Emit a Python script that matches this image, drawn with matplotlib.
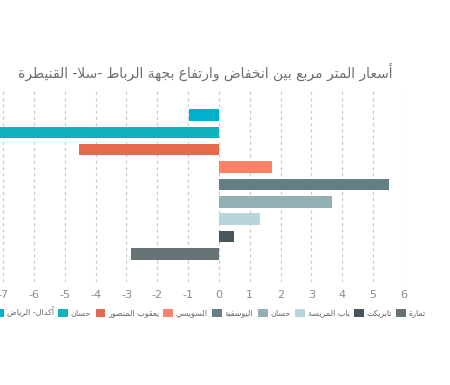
import unicodedata
import matplotlib
matplotlib.use("Agg")
import matplotlib.pyplot as plt
from matplotlib.patches import Patch

plt.rcParams['font.family'] = ['DejaVu Sans']

title = "أسعار المتر مربع بين انخفاض وارتفاع بجهة الرباط -سلا- القنيطرة"
districts = ["أكدال- الرياض", "حسان", "يعقوب المنصور", "السويسي", "اليوسفية",
             "حسان", "باب المريسة", "تابريكت", "تمارة"]
changes = [-0.98, -7.6, -4.54, 1.71, 5.53, 3.68, 1.33, 0.5, -2.86]
colors = ["#00b0cc", "#10b2bc", "#e66a4d", "#fd8366", "#637e85",
          "#93b1b5", "#b6d6db", "#48555a", "#667475"]
x_ticks = list(range(-8, 7))

# matplotlib has no bidi / shaping, so pick presentation forms by hand
RIGHT_ONLY = set("اأإآدذرزوؤةى")
LAM_ALEF = {"ا": "LAM WITH ALEF", "أ": "LAM WITH ALEF WITH HAMZA ABOVE",
            "إ": "LAM WITH ALEF WITH HAMZA BELOW", "آ": "LAM WITH ALEF WITH MADDA ABOVE"}


def is_ar(c):
    return unicodedata.name(c, "").startswith("ARABIC LETTER")


def form(c, f):
    try:
        return unicodedata.lookup(unicodedata.name(c) + " " + f + " FORM")
    except KeyError:
        return c


def shape(text):
    out = []
    i = 0
    while i < len(text):
        c = text[i]
        if not is_ar(c):
            out.append(c)
            i += 1
            continue
        prev = text[i - 1] if i > 0 else ""
        join_prev = bool(prev) and is_ar(prev) and prev not in RIGHT_ONLY
        nxt = text[i + 1] if i + 1 < len(text) else ""
        if c == "ل" and nxt in LAM_ALEF:
            f = "FINAL" if join_prev else "ISOLATED"
            out.append(unicodedata.lookup("ARABIC LIGATURE " + LAM_ALEF[nxt] + " " + f + " FORM"))
            i += 2
            continue
        join_next = c not in RIGHT_ONLY and bool(nxt) and is_ar(nxt)
        if join_prev and join_next:
            out.append(form(c, "MEDIAL"))
        elif join_prev:
            out.append(form(c, "FINAL"))
        elif join_next:
            out.append(form(c, "INITIAL"))
        else:
            out.append(form(c, "ISOLATED"))
        i += 1
    return "".join(out)[::-1]


W, H = 450, 385
fig = plt.figure(figsize=(W / 100, H / 100), dpi=100)
# plot area runs off the left edge of the picture, like the original
left_px, right_px = 3.3 - 30.8, 403.7
ax = fig.add_axes([left_px / W, 1 - 282 / H, (right_px - left_px) / W, 192 / H])

pos = list(range(len(changes)))
ax.barh(pos, changes, height=0.67, color=colors, zorder=3)
ax.set_xlim(-8, 6)
ax.set_ylim(9.63, -1.44)
ax.set_xticks(x_ticks)
ax.set_xticklabels([str(t) for t in x_ticks])
ax.set_yticks([])
ax.tick_params(axis='x', length=0, pad=6, labelsize=8, labelcolor="#8a8a8a")
ax.grid(axis='x', color="#cccccc", linestyle=(0, (2.5, 2.5)), linewidth=0.9, zorder=0)
for s in ax.spines.values():
    s.set_visible(False)

fig.text(205 / W, 1 - 72 / H, shape(title), ha='center', va='center',
         fontsize=10, color="#6e6e6e")

handles = [Patch(facecolor=c, edgecolor='none') for c in colors]
fig.legend(handles, [shape(d) for d in districts], ncol=len(districts),
           loc='center right', bbox_to_anchor=(426 / W, 1 - 312 / H),
           frameon=False, fontsize=5.8, labelcolor="#666666",
           handlelength=1.2, handleheight=1.2, handletextpad=0.35,
           columnspacing=0.55, borderpad=0, borderaxespad=0)

fig.savefig("out.png", dpi=100)
